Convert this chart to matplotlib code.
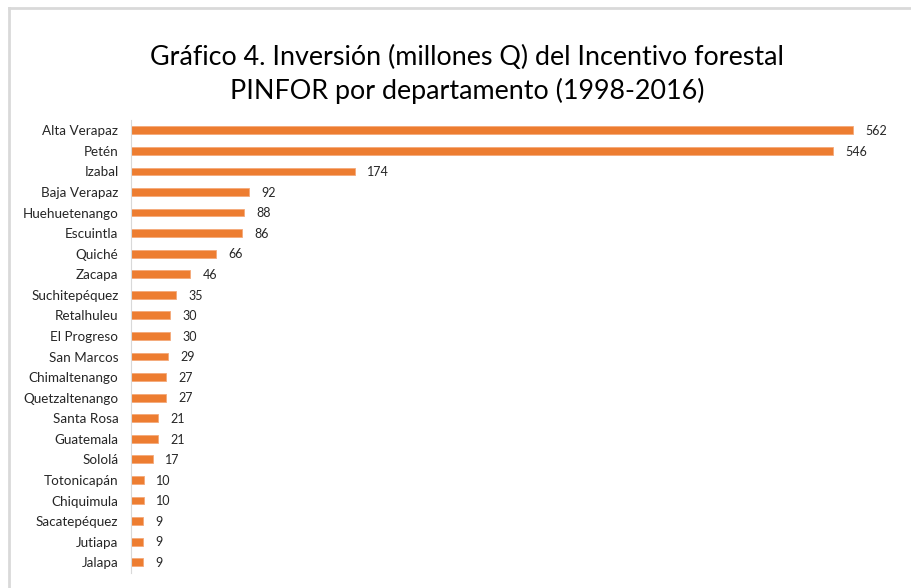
import matplotlib.pyplot as plt

departamentos = ["Alta Verapaz", "Petén", "Izabal", "Baja Verapaz", "Huehuetenango",
                 "Escuintla", "Quiché", "Zacapa", "Suchitepéquez", "Retalhuleu",
                 "El Progreso", "San Marcos", "Chimaltenango", "Quetzaltenango",
                 "Santa Rosa", "Guatemala", "Sololá", "Totonicapán", "Chiquimula",
                 "Sacatepéquez", "Jutiapa", "Jalapa"]
inversion = [562, 546, 174, 92, 88, 86, 66, 46, 35, 30, 30, 29, 27, 27,
             21, 21, 17, 10, 10, 9, 9, 9]

plt.rcParams["font.family"] = ["Lato", "DejaVu Sans"]

fig = plt.figure(figsize=(9.12, 5.88), dpi=100)
W, H = 912, 588

# chart frame (top and left edges visible)
fig.add_artist(plt.Line2D([9 / W, 9 / W], [0, 1 - 8 / H], transform=fig.transFigure,
                          color="#d9d9d9", lw=2))
fig.add_artist(plt.Line2D([9 / W, 1], [1 - 8 / H, 1 - 8 / H], transform=fig.transFigure,
                          color="#d9d9d9", lw=2))

ax = fig.add_axes([131 / W, 1 - 572.5 / H, 771 / W, 452.5 / H])
y = list(range(len(departamentos)))
ax.barh(y, inversion, height=0.38, color="#ED7D31", edgecolor="#F4A97A", linewidth=0.6)
ax.set_ylim(len(departamentos) - 0.5, -0.5)
ax.set_xlim(0, 600)
ax.set_yticks(y)
ax.set_yticklabels(departamentos, fontsize=9.7, color="#262626")
ax.tick_params(axis="y", length=0, pad=9)
ax.set_xticks([])
for s in ["top", "right", "bottom"]:
    ax.spines[s].set_visible(False)
ax.spines["left"].set_color("#d9d9d9")

for yi, v in zip(y, inversion):
    ax.annotate(str(v), (v, yi), xytext=(9, -0.5), textcoords="offset points",
                va="center", ha="left", fontsize=9, color="#262626")

fig.text(467 / W, 1 - 57 / H, "Gráfico 4. Inversión (millones Q) del Incentivo forestal",
         ha="center", va="center", fontsize=19.4, color="#000000")
fig.text(467 / W, 1 - 91 / H, "PINFOR por departamento (1998-2016)",
         ha="center", va="center", fontsize=19.4, color="#000000")

fig.savefig("out.png", dpi=100)
